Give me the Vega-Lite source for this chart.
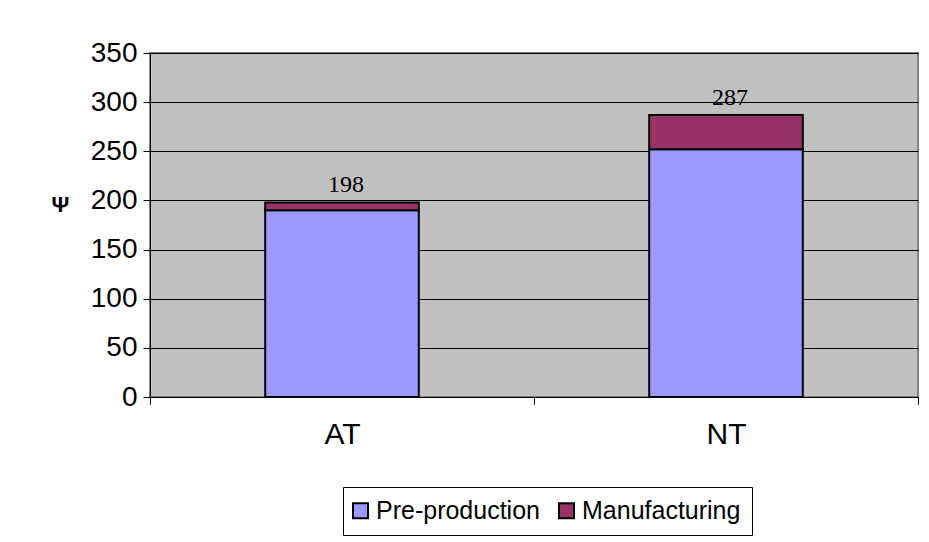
{
  "$schema": "https://vega.github.io/schema/vega-lite/v6.json",
  "autosize": "none",
  "width": 768,
  "height": 344,
  "padding": {"left": 150, "top": 53, "right": 11, "bottom": 145},
  "background": "white",
  "config": {
    "font": "Liberation Sans",
    "view": {"fill": "#C0C0C0", "stroke": "#808080", "strokeWidth": 2}
  },
  "datasets": {
    "costs": [
      {"team": "AT", "part": "Pre-production", "stage": 1, "value": 190},
      {"team": "AT", "part": "Manufacturing", "stage": 2, "value": 8},
      {"team": "NT", "part": "Pre-production", "stage": 1, "value": 252},
      {"team": "NT", "part": "Manufacturing", "stage": 2, "value": 35}
    ]
  },
  "data": {"name": "costs"},
  "encoding": {
    "x": {
      "field": "team",
      "type": "nominal",
      "scale": {"paddingInner": 0, "paddingOuter": 0},
      "axis": {
        "title": null,
        "labelAngle": 0,
        "labelFontSize": 30,
        "labelColor": "#000",
        "labelPadding": 15,
        "tickBand": "extent",
        "tickSize": 7,
        "tickColor": "#000",
        "domainColor": "#000",
        "grid": false
      }
    }
  },
  "layer": [
    {
      "mark": {"type": "bar", "stroke": "#000", "strokeWidth": 2, "width": {"band": 0.4}},
      "encoding": {
        "y": {
          "field": "value",
          "type": "quantitative",
          "aggregate": "sum",
          "stack": "zero",
          "scale": {"domain": [0, 350], "nice": false},
          "axis": {
            "title": "Ψ",
            "titleAngle": 0,
            "titleFontSize": 22,
            "titleFontWeight": "bold",
            "titleColor": "#000",
            "titleX": -90,
            "titleY": 151,
            "titleAlign": "center",
            "titleBaseline": "middle",
            "values": [0, 50, 100, 150, 200, 250, 300, 350],
            "labelFontSize": 28,
            "labelColor": "#000",
            "labelPadding": 6,
            "tickSize": 7,
            "tickColor": "#000",
            "domainColor": "#000",
            "grid": true,
            "gridColor": "#000",
            "gridWidth": 1
          }
        },
        "color": {
          "field": "part",
          "type": "nominal",
          "scale": {
            "domain": ["Pre-production", "Manufacturing"],
            "range": ["#9999FF", "#993366"]
          },
          "legend": {
            "title": null,
            "orient": "none",
            "direction": "horizontal",
            "legendX": 193,
            "legendY": 434,
            "symbolType": "square",
            "symbolSize": 225,
            "symbolStrokeColor": "#000",
            "symbolStrokeWidth": 2,
            "symbolOffset": -6,
            "labelFontSize": 25,
            "labelLimit": 400,
            "labelColor": "#000",
            "labelOffset": 3,
            "columnPadding": 15,
            "padding": 11,
            "strokeColor": "#000",
            "fillColor": "white"
          }
        },
        "order": {"field": "stage", "type": "ordinal"}
      }
    },
    {
      "transform": [
        {"aggregate": [{"op": "sum", "field": "value", "as": "total"}], "groupby": ["team"]}
      ],
      "mark": {
        "type": "text",
        "font": "Liberation Serif",
        "fontSize": 24,
        "color": "#000",
        "baseline": "alphabetic",
        "dy": -10,
        "dx": 4
      },
      "encoding": {
        "y": {"field": "total", "type": "quantitative"},
        "text": {"field": "total", "type": "quantitative"}
      }
    }
  ]
}
